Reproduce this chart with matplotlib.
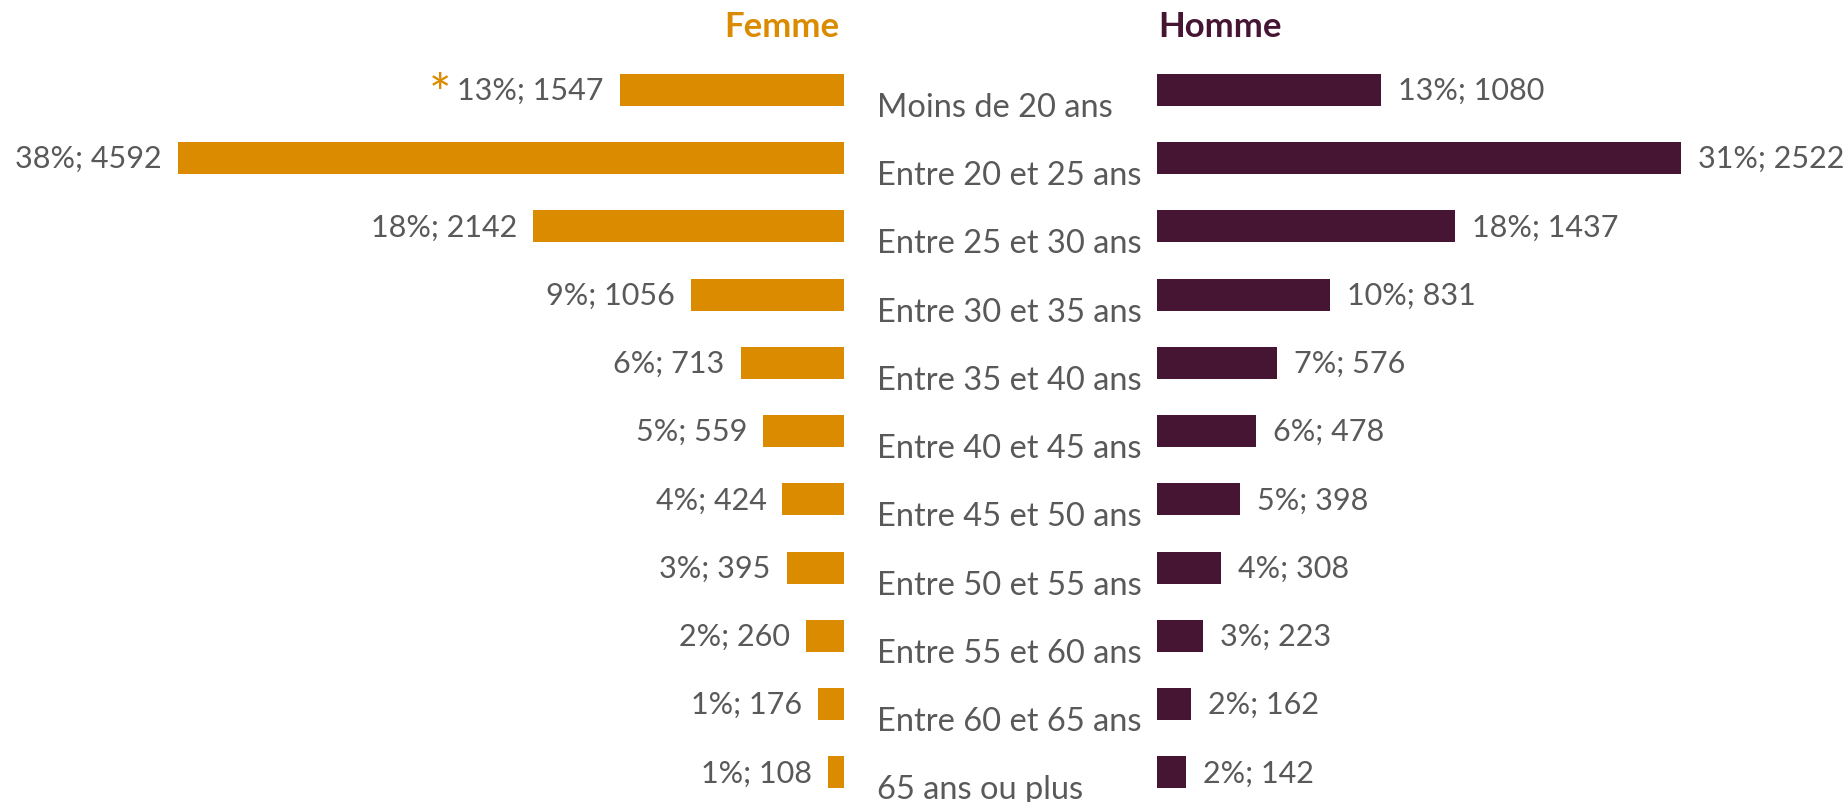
import matplotlib
matplotlib.use("Agg")
import matplotlib.pyplot as plt
from matplotlib.transforms import blended_transform_factory

categories = ["Moins de 20 ans", "Entre 20 et 25 ans", "Entre 25 et 30 ans",
              "Entre 30 et 35 ans", "Entre 35 et 40 ans", "Entre 40 et 45 ans",
              "Entre 45 et 50 ans", "Entre 50 et 55 ans", "Entre 55 et 60 ans",
              "Entre 60 et 65 ans", "65 ans ou plus"]
femme_n = [1547, 4592, 2142, 1056, 713, 559, 424, 395, 260, 176, 108]
femme_pct = [13, 38, 18, 9, 6, 5, 4, 3, 2, 1, 1]
homme_n = [1080, 2522, 1437, 831, 576, 478, 398, 308, 223, 162, 142]
homme_pct = [13, 31, 18, 10, 7, 6, 5, 4, 3, 2, 2]

ORANGE = "#DB8B00"
PURPLE = "#461533"
GREY = "#595959"
FONT = "Lato"

W, H = 1849, 803
fig = plt.figure(figsize=(W / 100, H / 100), dpi=100)

# row geometry in pixels
row0, step = 90.8, 68.26
ylim = ((H - row0) / step, -row0 / step)

ax_f = fig.add_axes([0, 0, 844 / W, 1])
ax_h = fig.add_axes([1157 / W, 0, 1 - 1157 / W, 1])

rows = list(range(len(categories)))
ax_f.barh(rows, femme_n, height=0.47, color=ORANGE)
ax_h.barh(rows, homme_n, height=0.47, color=PURPLE)
ax_f.set_xlim(844 / 0.1451, 0)
ax_h.set_xlim(0, (W - 1157) / 0.2076)

for ax in (ax_f, ax_h):
    ax.set_ylim(*ylim)
    ax.axis("off")

for i, (n, p) in enumerate(zip(femme_n, femme_pct)):
    ax_f.annotate(f"{p}%; {n}", xy=(n, i), xytext=(-16, 0), textcoords="offset pixels",
                  ha="right", va="center", fontsize=22, color=GREY, family=FONT)
for i, (n, p) in enumerate(zip(homme_n, homme_pct)):
    ax_h.annotate(f"{p}%; {n}", xy=(n, i), xytext=(17, 0), textcoords="offset pixels",
                  ha="left", va="center", fontsize=22, color=GREY, family=FONT)

# asterisk in front of the first femme label
ax_f.annotate("*", xy=(femme_n[0], 0), xytext=(-168, -7), textcoords="offset pixels",
              ha="right", va="center", fontsize=38, color=ORANGE, family=FONT)

tr = blended_transform_factory(fig.transFigure, ax_h.transData)
for i, cat in enumerate(categories):
    ax_h.annotate(cat, xy=(877 / W, i), xycoords=tr, xytext=(0, -17),
                  textcoords="offset pixels", ha="left", va="center",
                  fontsize=23.5, color=GREY, family=FONT, annotation_clip=False)

fig.text(839 / W, 1 - 27 / H, "Femme", ha="right", va="center", fontsize=25,
         fontweight="bold", color=ORANGE, family=FONT)
fig.text(1158 / W, 1 - 27 / H, "Homme", ha="left", va="center", fontsize=25,
         fontweight="bold", color=PURPLE, family=FONT)

fig.savefig("out.png", dpi=100, facecolor="white")
